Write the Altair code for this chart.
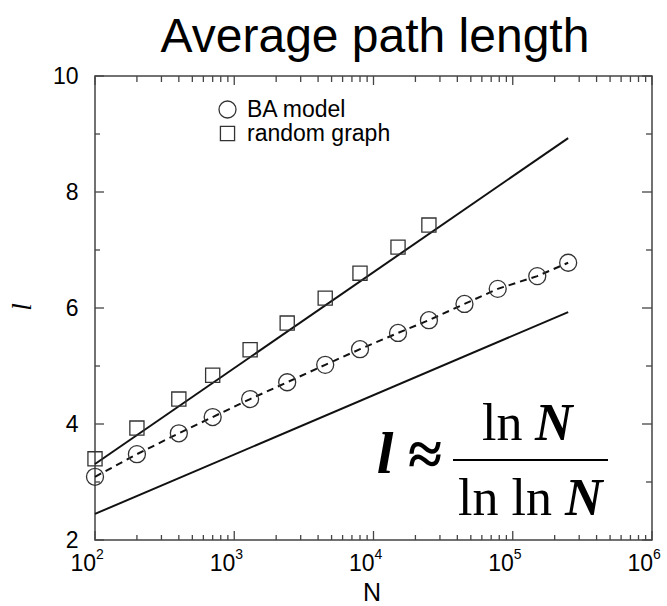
import altair as alt
import pandas as pd

# Network sizes and measured average path lengths
N = [100, 200, 400, 700, 1300, 2400, 4500, 8000, 15000, 25000, 45000, 78000, 150000, 250000]
l_ba = [3.09, 3.48, 3.84, 4.12, 4.43, 4.72, 5.02, 5.29, 5.57, 5.79, 6.07, 6.33, 6.55, 6.78]
l_random = [3.40, 3.93, 4.43, 4.84, 5.28, 5.74, 6.17, 6.60, 7.05, 7.43]

# Reference curves (straight on the log-N axis)
fit_N = [100, 250000]
fit_random = [3.31, 8.93]
fit_lnln = [2.45, 5.93]

# Axis ticks
decades = [100, 1000, 10000, 100000, 1000000]
exponents = ["2", "3", "4", "5", "6"]
minor_N = [m * 10 ** k for k in range(2, 6) for m in range(2, 10)]
y_major = [2, 4, 6, 8, 10]
y_minor = [3, 5, 7, 9]

series_names = ["BA model", "random graph"]

W, H = 557, 464
SANS = "Liberation Sans"
SERIF = "Liberation Serif"
INK = "#111"
FRAME = "#444"

xscale = alt.Scale(type="log", domain=[100, 1000000], nice=False)
yscale = alt.Scale(domain=[2, 10], nice=False, zero=False)
X = alt.X("N:Q", scale=xscale, axis=None)
Y = alt.Y("l:Q", scale=yscale, axis=alt.Axis(
    values=y_major, ticks=False, domain=False, grid=False, title=None,
    labelFont=SANS, labelFontSize=23, labelColor="black", labelPadding=17))

points_df = pd.DataFrame({
    "N": N + N[:len(l_random)],
    "l": l_ba + l_random,
    "series": [series_names[0]] * len(N) + [series_names[1]] * len(l_random),
})
ba_df = pd.DataFrame({"N": N, "l": l_ba})
fits_df = pd.DataFrame({
    "N": fit_N + fit_N,
    "l": fit_random + fit_lnln,
    "curve": ["random"] * 2 + ["lnln"] * 2,
})

key_legend = alt.Legend(title=None, orient="none", legendX=121, legendY=22)

fits = alt.Chart(fits_df).mark_line(color=INK, strokeWidth=2).encode(
    x=X, y=Y, detail="curve:N")
ba_line = alt.Chart(ba_df).mark_line(color=INK, strokeWidth=2, strokeDash=[7, 5]).encode(x=X, y=Y)
points = alt.Chart(points_df).mark_point(filled=False, color="#333", strokeWidth=1.3, opacity=1).encode(
    x=X, y=Y,
    shape=alt.Shape("series:N",
                    scale=alt.Scale(domain=series_names, range=["circle", "square"]),
                    legend=key_legend),
    size=alt.Size("series:N",
                  scale=alt.Scale(domain=series_names, range=[289, 200]),
                  legend=key_legend),
)


def xticks(vals, length, top):
    df = pd.DataFrame({"N": vals})
    if top:
        yy, yy2 = alt.value(0), alt.value(length)
    else:
        yy, yy2 = alt.value(H), alt.value(H - length)
    return alt.Chart(df).mark_rule(color=FRAME, strokeWidth=1.3).encode(x=X, y=yy, y2=yy2)


def yticks(vals, length, right):
    df = pd.DataFrame({"l": vals})
    if right:
        xx, xx2 = alt.value(W), alt.value(W - length)
    else:
        xx, xx2 = alt.value(0), alt.value(length)
    return alt.Chart(df).mark_rule(color=FRAME, strokeWidth=1.3).encode(y=Y, x=xx, x2=xx2)


def label(text, x, y, **kw):
    return alt.Chart(pd.DataFrame({"t": [text]})).mark_text(**kw).encode(
        text="t:N", x=alt.value(x), y=alt.value(y))


ticks = [
    xticks(decades, 9, False), xticks(minor_N, 5, False),
    xticks(decades, 9, True), xticks(minor_N, 6, True),
    yticks(y_major, 9, False), yticks(y_minor, 5, False),
    yticks(y_major, 10, True), yticks(y_minor, 6, True),
]

dec_df = pd.DataFrame({"N": decades, "exp": exponents})
tens = alt.Chart(dec_df).mark_text(text="10", align="right", baseline="alphabetic",
                                   font=SANS, fontSize=23, color="black", dx=1).encode(
    x=X, y=alt.value(H + 31))
exps = alt.Chart(dec_df).mark_text(align="left", baseline="alphabetic",
                                   font=SANS, fontSize=14, color="black", dx=1).encode(
    x=X, y=alt.value(H + 19), text="exp:N")

texts = [
    label("Average path length", 280, -24, font=SANS, fontSize=48, align="center",
          baseline="alphabetic", color="black"),
    label("N", 277, H + 61, font=SANS, fontSize=25, align="center",
          baseline="alphabetic", color="black"),
    label("l", -72, 231, font=SERIF, fontSize=27, fontStyle="italic", angle=270,
          align="center", baseline="middle", color="black"),
    # l ≈ ln N / ln ln N
    label("l", 290, 397, font=SERIF, fontSize=60, fontStyle="italic", fontWeight="bold",
          align="center", baseline="alphabetic", color="black"),
    label("≈", 330, 399, font=SERIF, fontSize=62, fontWeight="bold", align="center",
          baseline="alphabetic", color="black"),
    label("ln", 387, 364, font=SERIF, fontSize=52, align="left",
          baseline="alphabetic", color="black"),
    label("N", 440, 364, font=SERIF, fontSize=52, fontStyle="italic", fontWeight="bold",
          align="left", baseline="alphabetic", color="black"),
    label("ln ln", 363, 439, font=SERIF, fontSize=52, align="left",
          baseline="alphabetic", color="black"),
    label("N", 470, 439, font=SERIF, fontSize=52, fontStyle="italic", fontWeight="bold",
          align="left", baseline="alphabetic", color="black"),
]
bar = alt.Chart(pd.DataFrame({"t": [0]})).mark_rule(color="black", strokeWidth=2).encode(
    x=alt.value(358), x2=alt.value(513), y=alt.value(384))

chart = alt.layer(
    fits, ba_line, points, *ticks, tens, exps, *texts, bar
).properties(
    width=W, height=H,
    padding={"left": 95, "top": 76, "right": 15, "bottom": 66},
    autosize=alt.AutoSizeParams(type="none"),
).configure_view(
    stroke=FRAME, strokeWidth=1.5
).configure_legend(
    labelFont=SANS, labelFontSize=23, labelColor="black", labelOffset=8,
    symbolStrokeWidth=1.3, symbolStrokeColor="#333",
    rowPadding=0, padding=0,
)

chart.save("out.html", embed_options={"renderer": "svg", "actions": False})
